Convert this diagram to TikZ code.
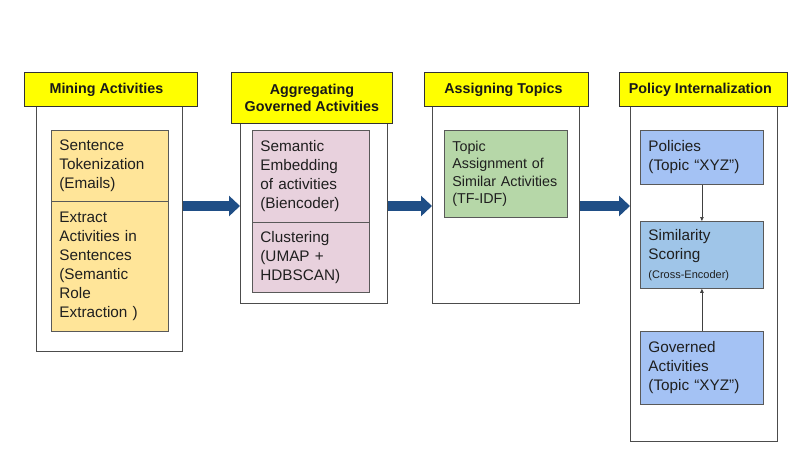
\documentclass[tikz,border=0pt]{standalone}
\usepackage{fontspec}
\setmainfont{Liberation Sans}
\usetikzlibrary{arrows.meta}
\definecolor{hdrfill}{HTML}{FFFF00}
\definecolor{orangefill}{HTML}{FFE599}
\definecolor{pinkfill}{HTML}{E8D1DD}
\definecolor{greenfill}{HTML}{B6D7A8}
\definecolor{bluefill}{HTML}{A4C2F4}
\definecolor{bluemid}{HTML}{9FC5E8}
\definecolor{arrowblue}{HTML}{1F4E86}
\begin{document}
\begin{tikzpicture}[x=1pt,y=-1pt,
  hdrbox/.style={draw=black!80, fill=hdrfill, line width=0.8pt, inner sep=0pt, anchor=north west,
    font=\fontsize{14.3}{17}\selectfont\bfseries, align=center, text=black!90},
  outerbox/.style={draw=black!70, line width=0.9pt, fill=white, inner sep=0pt, anchor=north west},
  inbox/.style={draw=black!65, line width=0.8pt, inner xsep=8pt, inner ysep=0pt, anchor=north west,
    font=\fontsize{15.3}{19}\selectfont, align=left, text=black!88},
  bigarr/.style={draw=arrowblue, line width=10pt, -{Triangle[length=11pt,width=20pt]}},
  smallarr/.style={draw=black!75, line width=0.7pt, -{Triangle[length=4pt,width=3.5pt]}}
]
\fill[white] (0,0) rectangle (800,466);
\useasboundingbox (0,0) rectangle (800,466);

% outer boxes
\node[outerbox, minimum width=146pt, minimum height=245pt] (o1) at (36,106) {};
\node[outerbox, minimum width=147pt, minimum height=180pt] (o2) at (240,123) {};
\node[outerbox, minimum width=147pt, minimum height=197pt] (o3) at (432,106) {};
\node[outerbox, minimum width=147pt, minimum height=335pt] (o4) at (630,106) {};

% headers
\node[hdrbox, minimum width=173pt, minimum height=34pt] (h1) at (24,72) {Mining Activities\hspace*{9pt}};
\node[hdrbox, minimum width=161pt, minimum height=51pt] (h2) at (231,72) {Aggregating\\Governed Activities};
\node[hdrbox, minimum width=164pt, minimum height=34pt] (h3) at (424,72) {Assigning Topics\hspace*{6pt}};
\node[hdrbox, minimum width=168pt, minimum height=34pt] (h4) at (619,72) {Policy Internalization\hspace*{6pt}};

% mining
\node[inbox, fill=orangefill, text width=101pt, minimum height=71pt] (m1) at (51,130)
  {Sentence\\Tokenization\\(Emails)};
\node[inbox, fill=orangefill, text width=101pt, minimum height=130pt] (m2) at (51,201)
  {Extract\\Activities in\\Sentences\\(Semantic\\Role\\Extraction )};

% aggregating
\node[inbox, fill=pinkfill, text width=101pt, minimum height=92pt] (a1) at (252,130)
  {Semantic\\Embedding\\of activities\\(Biencoder)};
\node[inbox, fill=pinkfill, text width=101pt, minimum height=70pt] (a2) at (252,222)
  {Clustering\\(UMAP +\\HDBSCAN)};

% topics
\node[inbox, fill=greenfill, text width=107pt, minimum height=87pt,
  font=\fontsize{14.3}{17.5}\selectfont] (t1) at (444,130)
  {Topic\\Assignment of\\Similar Activities\\(TF-IDF)};

% policy
\node[inbox, fill=bluefill, text width=107pt, minimum height=54pt] (p1) at (640,130)
  {Policies\\(Topic “XYZ”)};
\node[inbox, fill=bluemid, text width=107pt, minimum height=67pt] (p2) at (640,221)
  {Similarity\\Scoring\\{\fontsize{11}{14}\selectfont (Cross-Encoder)}};
\node[inbox, fill=bluefill, text width=107pt, minimum height=73pt] (p3) at (640,331)
  {Governed\\Activities\\(Topic “XYZ”)};

% big arrows
\coordinate (ay) at (0,206);
\draw[bigarr] (o1.east |- ay) -- (o2.west |- ay);
\draw[bigarr] (o2.east |- ay) -- (o3.west |- ay);
\draw[bigarr] (o3.east |- ay) -- (o4.west |- ay);

% small arrows
\draw[smallarr] (p1.south) -- (p2.north);
\draw[smallarr] (p3.north) -- (p2.south);
\end{tikzpicture}
\end{document}
